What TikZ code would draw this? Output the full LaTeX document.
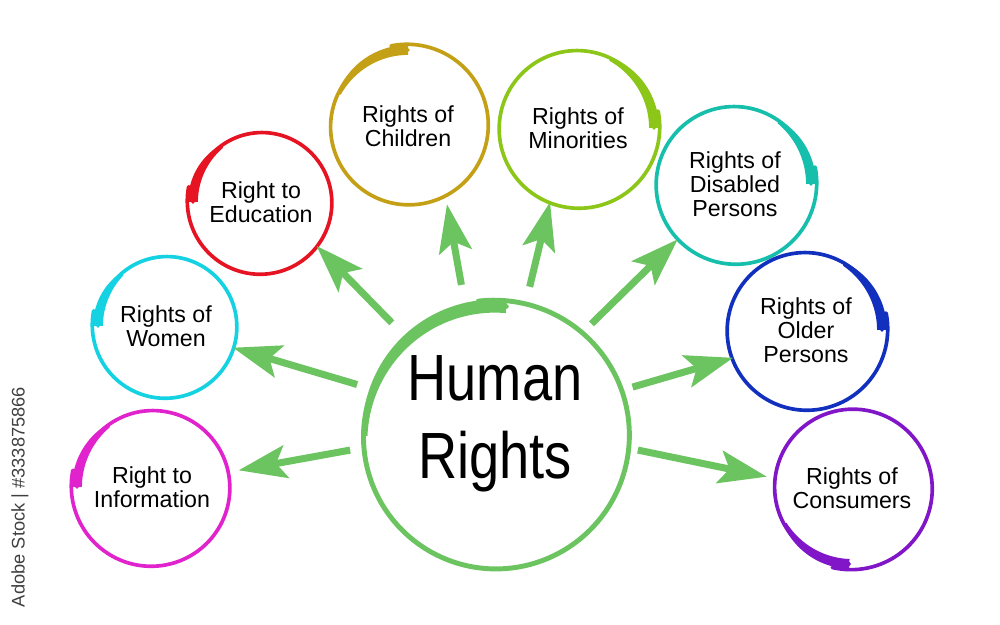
\documentclass[tikz,border=0pt]{standalone}
\usepackage{fontspec}
\setmainfont{Liberation Sans}
\newfontfamily\hubfont[FakeStretch=0.83]{Liberation Sans}
\usetikzlibrary{arrows.meta}

\definecolor{hrgreen}{RGB}{108,196,96}
\definecolor{infomag}{RGB}{225,35,205}
\definecolor{womencyan}{RGB}{20,210,225}
\definecolor{edured}{RGB}{230,20,35}
\definecolor{childgold}{RGB}{196,160,22}
\definecolor{minorlime}{RGB}{140,198,25}
\definecolor{disabteal}{RGB}{22,190,172}
\definecolor{olderblue}{RGB}{18,48,190}
\definecolor{consumpurple}{RGB}{128,22,200}

% brush circle: node, radius (cm), start angle, direction (1 ccw, -1 cw), colour, thin width (pt), taper span
\newcommand{\brush}[7]{%
  \begin{scope}[shift={(#1.center)}, color=#5]
    \draw[line width=#6pt, line cap=round] plot[domain=0:372, samples=120, smooth]
      ({(#2+0.0004*\x)*cos(#3+#4*\x)}, {(#2+0.0004*\x)*sin(#3+#4*\x)});
    \fill plot[domain=0:#7, samples=40]
      ({(#2+#6*0.0176*(1+1.7*(1-(\x/#7)^2)))*cos(#3+#4*\x)}, {(#2+#6*0.0176*(1+1.7*(1-(\x/#7)^2)))*sin(#3+#4*\x)})
      -- plot[domain=#7:0, samples=40]
      ({(#2-#6*0.0176*(1+1.7*(1-(\x/#7)^2)))*cos(#3+#4*\x)}, {(#2-#6*0.0176*(1+1.7*(1-(\x/#7)^2)))*sin(#3+#4*\x)})
      -- cycle;
  \end{scope}}

\begin{document}
\begin{tikzpicture}[item/.style={circle, minimum size=2*#1, inner sep=0pt, outer sep=0pt, align=center, font=\fontsize{16.5}{17}\selectfont},
  hub/.style={circle, minimum size=6.5cm, inner sep=0pt, outer sep=0pt, font=\hubfont\fontsize{46.5}{55}\selectfont},
  arr/.style={line width=5pt, draw=hrgreen, -{Stealth[length=1.2cm, width=0.82cm, inset=0.25cm]}}]
\path[use as bounding box, fill=white] (0,0) rectangle (25,15.625);

\node[hub] (hr) at (12.375,4.725) {\raisebox{0.3cm}[\height][\depth]{\begin{tabular}{@{}c@{}}Human\\Rights\end{tabular}}};

\node[item=1.875cm] (info) at (3.8,3.45) {Right to\\Information};
\node[item=1.7cm] (women) at (4.15,7.475) {Rights of\\Women};
\node[item=1.7cm] (edu) at (6.525,10.575) {Right to\\Education};
\node[item=1.9cm] (child) at (10.2,12.475) {Rights of\\Children};
\node[item=1.9cm] (minor) at (14.45,12.425) {Rights of\\Minorities};
\node[item=1.9cm] (disab) at (18.375,11.025) {Rights of\\Disabled\\Persons};
\node[item=1.9cm] (older) at (20.15,7.375) {Rights of\\Older\\Persons};
\node[item=1.9cm] (consum) at (21.3,3.425) {Rights of\\Consumers};

\brush{hr}{3.25}{85}{1}{hrgreen}{3.5}{95}
\brush{info}{1.875}{180}{-1}{infomag}{2.6}{55}
\brush{women}{1.7}{180}{-1}{womencyan}{2.6}{50}
\brush{edu}{1.7}{180}{-1}{edured}{2.6}{55}
\brush{child}{1.9}{90}{1}{childgold}{2.6}{65}
\brush{minor}{1.9}{0}{1}{minorlime}{2.6}{65}
\brush{disab}{1.9}{0}{1}{disabteal}{2.6}{55}
\brush{older}{1.9}{0}{1}{olderblue}{2.6}{60}
\brush{consum}{1.9}{268}{-1}{consumpurple}{2.6}{60}

\draw[arr, shorten <=0.39cm, shorten >=0.33cm] (hr.185) -- (info.11);
\draw[arr, shorten <=0.43cm, shorten >=0.06cm] (hr.159) -- (women.342);
\draw[arr, shorten <=0.58cm, shorten >=0.07cm] (hr.132) -- (edu.322.5);
\draw[arr, shorten <=0.62cm, shorten >=0.3cm] (hr.103) -- (child.299);
\draw[arr, shorten <=0.58cm, shorten >=0.08cm] (hr.77.5) -- (minor.249.5);
\draw[arr, shorten <=0.45cm, shorten >=0.09cm] (hr.50) -- (disab.224);
\draw[arr, shorten <=0.4cm, shorten >=0.05cm] (hr.20) -- (older.201);
\draw[arr, shorten <=0.34cm, shorten >=0.25cm] (hr.355) -- (consum.173);

\node[rotate=90, text=black!75, font=\fontsize{13}{13}\selectfont] (stock) at (0.5,3.2) {Adobe Stock | \#333875866};
\end{tikzpicture}
\end{document}
